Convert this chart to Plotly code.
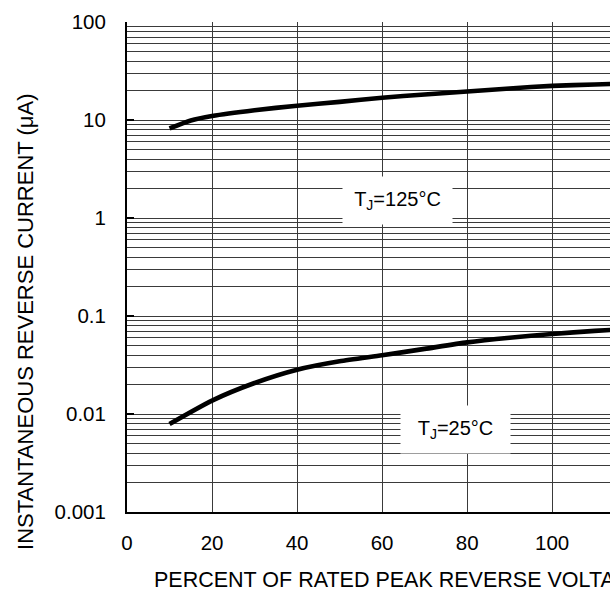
import math
import plotly.graph_objects as go

# ---- data ----
x_125 = [10, 15, 20, 30, 40, 50, 60, 70, 80, 90, 100, 110, 120]
i_125 = [8.2, 9.9, 11.0, 12.6, 14.0, 15.3, 16.9, 18.2, 19.5, 21.0, 22.3, 23.0, 23.8]

x_25 = [10, 20, 30, 40, 50, 60, 70, 80, 90, 100, 110, 120]
i_25 = [0.0079, 0.0137, 0.0207, 0.0283, 0.0345, 0.0397, 0.0462, 0.0538, 0.060, 0.0655, 0.0705, 0.075]

x_ticks = [0, 20, 40, 60, 80, 100, 120]
x_ticktext = ["0", "20", "40", "60", "80", "100", "120"]
y_decades = [0.001, 0.01, 0.1, 1, 10, 100]
y_decade_text = ["0.001", "0.01", "0.1", "1", "10", "100"]

labels = ["T<sub>J</sub>=125°C", "T<sub>J</sub>=25°C"]
label_x = [63.6, 77.3]
label_y = [1.52, 0.00689]

x_title = "PERCENT OF RATED PEAK REVERSE VOLTAGE (%)"
y_title = "INSTANTANEOUS REVERSE CURRENT (μA)"

# minor grid values 2..9 in each decade
y_minor = [d * k for d in y_decades[:-1] for k in range(2, 10)]

FONT = "Liberation Sans, Arial, sans-serif"
GRID = "#3a3a3a"

fig = go.Figure()
for xs, ys in [(x_125, i_125), (x_25, i_25)]:
    fig.add_trace(go.Scatter(x=xs, y=ys, mode="lines",
                             line=dict(color="black", width=4.6, shape="spline", smoothing=0.6),
                             showlegend=False, hoverinfo="skip"))

for t, lx, ly in zip(labels, label_x, label_y):
    fig.add_annotation(x=lx, y=math.log10(ly), xref="x", yref="y", text=t, showarrow=False,
                       font=dict(family=FONT, size=20, color="black"),
                       bgcolor="white", width=107, height=45, align="center",
                       valign="middle")

fig.add_annotation(x=0.052, y=-0.139, xref="paper", yref="paper", text=x_title,
                   showarrow=False, xanchor="left", yanchor="middle",
                   font=dict(family=FONT, size=21.5, color="black"))
fig.add_annotation(x=-0.209, y=0.388, xref="paper", yref="paper", text=y_title,
                   showarrow=False, textangle=-90, xanchor="center", yanchor="middle",
                   font=dict(family=FONT, size=22, color="black"))

fig.update_xaxes(range=[0, 113.6], tickmode="array", tickvals=x_ticks, ticktext=x_ticktext,
                 showgrid=True, gridcolor=GRID, gridwidth=1, zeroline=False,
                 showline=True, linecolor="black", linewidth=2,
                 ticks="", ticklabelstandoff=11,
                 tickfont=dict(family=FONT, size=20.5, color="black"))
fig.update_yaxes(type="log", range=[-3, 2], tickmode="array", tickvals=y_decades,
                 ticktext=y_decade_text, showgrid=True, gridcolor=GRID, gridwidth=1,
                 minor=dict(tickmode="array", tickvals=y_minor, showgrid=True,
                            gridcolor=GRID, gridwidth=1, ticks=""),
                 zeroline=False, showline=True, linecolor="black", linewidth=2,
                 ticks="inside", ticklen=7, tickwidth=1.5, tickcolor="black",
                 ticklabelstandoff=15,
                 tickfont=dict(family=FONT, size=20.5, color="black"))

fig.update_layout(width=610, height=592, paper_bgcolor="white", plot_bgcolor="white",
                  margin=dict(l=127, r=0, t=22, b=80),
                  font=dict(family=FONT, size=20, color="black"))

fig.write_html("out.html", config={"displayModeBar": False},
               post_script="document.body.style.margin='0';document.body.style.overflow='hidden';")
